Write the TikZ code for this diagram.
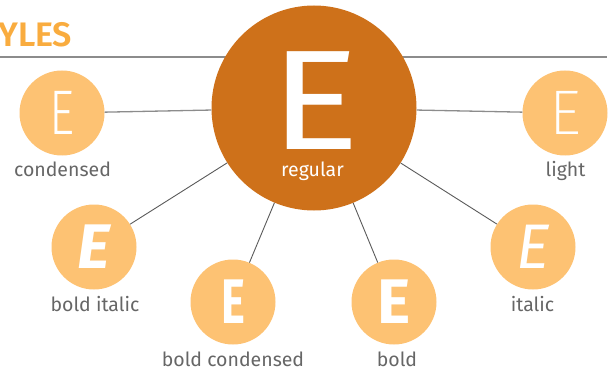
\documentclass[tikz,border=0pt]{standalone}
\usepackage{fontspec}
\setmainfont{Fira Sans}
\newfontfamily\lightfont{Fira Sans Light}
\newfontfamily\xlightfont{Fira Sans ExtraLight}
\newfontfamily\semifont{Fira Sans SemiBold}
\definecolor{bigc}{HTML}{CE711A}
\definecolor{smallc}{HTML}{FDC273}
\definecolor{titlec}{HTML}{F9AC3F}
\definecolor{labc}{HTML}{666666}
\definecolor{hline}{HTML}{8C8C8C}
\definecolor{dline}{HTML}{5A5A5A}
\tikzset{
  smallcirc/.style={circle,fill=smallc,minimum size=85pt,inner sep=0pt,text=white,font=\fontsize{63}{63}\selectfont},
  bigcirc/.style={circle,fill=bigc,minimum size=205pt,inner sep=0pt},
  lab/.style={anchor=base,text=labc,font=\fontsize{19.5}{20}\selectfont,inner sep=0pt},
  hconn/.style={draw=hline,line width=1.3pt},
  dconn/.style={draw=dline,line width=0.9pt},
}
\begin{document}
\begin{tikzpicture}[x=1pt,y=-1pt]
\useasboundingbox (0,0) rectangle (614,369);
% title
\node[anchor=base west,inner sep=0pt,text=titlec,font=\fontsize{34}{34}\selectfont\semifont] (title) at (-2,47) {YLES};
\coordinate (tl) at (0,57);
\coordinate (tr) at (607,57);
\draw[draw=hline,line width=1.5pt] (tl) -- (tr);
% nodes
\node[bigcirc] (reg) at (314,108) {};
\node[smallcirc] (cond) at (62,113) {\lightfont\scalebox{0.78}[1]{E}};
\node[smallcirc] (light) at (565,113) {\xlightfont E};
\node[smallcirc] (bi) at (94,247) {\bfseries\itshape E};
\node[smallcirc] (bc) at (233,302) {\scalebox{0.72}[1]{\bfseries E}};
\node[smallcirc] (bold) at (394,302) {\bfseries E};
\node[smallcirc] (it) at (533,247) {\itshape E};
% connectors
\path[hconn] (reg) -- (cond);
\path[hconn] (reg) -- (light);
\path[dconn] (reg) -- (bi);
\path[dconn] (reg) -- (bc);
\path[dconn] (reg) -- (bold);
\path[dconn] (reg) -- (it);
% big letter
\node[inner sep=0pt,text=white,font=\fontsize{142}{142}\selectfont] (regE) at (315,101) {\scalebox{1.18}[1]{E}};
\node[lab,text=white] (regl) at (312.5,176) {regular};
% labels
\node[lab] (condl) at (62.5,176) {condensed};
\node[lab] (lightl) at (565.5,176) {light};
\node[lab] (bil) at (95,311) {bold italic};
\node[lab] (bcl) at (233,366) {bold condensed};
\node[lab] (boldl) at (397,366) {bold};
\node[lab] (itl) at (532.5,311) {italic};
\end{tikzpicture}
\end{document}
